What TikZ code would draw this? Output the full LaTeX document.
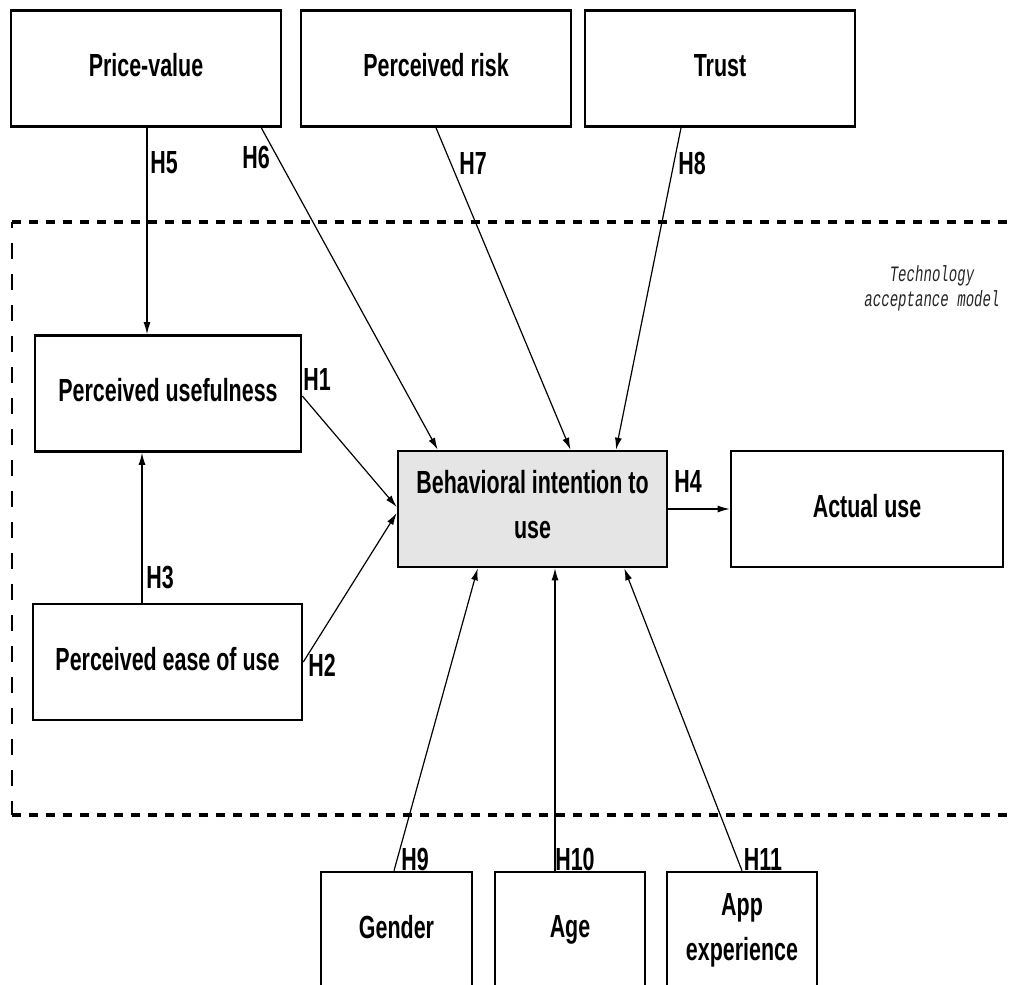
\documentclass[tikz,border=0pt]{standalone}
\usepackage{fontspec}
\setmainfont{Liberation Sans}[FakeStretch=0.67]
\newfontfamily\tammono{Liberation Mono}[FakeStretch=0.64]
\usetikzlibrary{arrows.meta,calc}
\definecolor{bifill}{RGB}{229,229,229}
\tikzset{
  box/.style={draw, line width=2.6pt, minimum height=116pt, align=center,
    inner sep=0pt, text depth=7pt, font=\fontsize{32}{45}\selectfont\bfseries},
  conn/.style={line width=1.2pt, -{Latex[length=12pt,width=7pt]}},
  hlab/.style={inner sep=0pt, font=\fontsize{32}{36}\selectfont\bfseries},
  hdash/.style={line width=3.5pt, dash pattern=on 9pt off 8pt},
  vdash/.style={line width=2.7pt, dash pattern=on 15.5pt off 15.5pt, dash phase=10pt},
}
\begin{document}
\begin{tikzpicture}[x=1pt,y=-1pt]
\useasboundingbox (0,0) rectangle (1012,985);
\clip (0,0) rectangle (1012,985);
% dashed frame
\draw[hdash] (12,222) -- (1012,222);
\draw[hdash] (12,815) -- (1012,815);
\draw[vdash] (12,222) -- (12,815);
\node[font=\tammono\itshape\fontsize{22}{25}\selectfont, align=center, text=black!85, inner sep=0pt] (tam) at (932,288) {Technology\\acceptance model};
% boxes
\node[box, minimum width=270pt] (pv) at (146,68.5) {Price-value};
\node[box, minimum width=270pt] (pr) at (436,68.5) {Perceived risk};
\node[box, minimum width=270pt] (tr) at (720,68.5) {Trust};
\node[box, minimum width=266pt] (pu) at (168,393.5) {Perceived usefulness};
\node[box, minimum width=269pt] (pe) at (167.5,662) {Perceived ease of use};
\node[box, minimum width=269pt, fill=bifill, text depth=10pt] (bi) at (532.5,509) {Behavioral intention to\\use};
\node[box, minimum width=272pt] (au) at (867,509) {Actual use};
\node[box, minimum width=151pt] (g) at (396.5,930) {Gender};
\node[box, minimum width=150pt] (ag) at (570,930) {Age};
\node[box, minimum width=150pt] (ae) at (742,930) {App\\experience};
% connectors
\draw[conn] ([xshift=1pt]pv.south) -- ([xshift=1pt]pv.south |- pu.north);
\draw[conn] ([xshift=-21pt]pv.south east) -- ([xshift=41pt]bi.north west);
\draw[conn] (pr.south) -- ([xshift=38pt]bi.north);
\draw[conn] ([xshift=-39pt]tr.south) -- ([xshift=83.5pt]bi.north);
\draw[conn] ([yshift=-2.5pt]pu.east) -- ([yshift=2pt]bi.west);
\draw[conn] (pe.east) -- ([yshift=-4pt]bi.west);
\draw[conn] ([xshift=-25.5pt]pe.north) -- ([xshift=-25.5pt]pe.north |- pu.south);
\draw[conn] (bi.east) -- (au.west);
\draw[conn] ([xshift=-2.5pt]g.north) -- ([xshift=81pt]bi.south west);
\draw[conn] ([xshift=-15pt]ag.north) -- ([xshift=-15pt]ag.north |- bi.south);
\draw[conn] (ae.north) -- ([xshift=-44pt]bi.south east);
% labels
\node[hlab] (l1) at (317,379) {H1};
\node[hlab] (l2) at (322,665) {H2};
\node[hlab] (l3) at (160,578) {H3};
\node[hlab] (l4) at (688,481) {H4};
\node[hlab] (l5) at (164,163) {H5};
\node[hlab] (l6) at (256,157) {H6};
\node[hlab] (l7) at (473,163) {H7};
\node[hlab] (l8) at (692,163) {H8};
\node[hlab] (l9) at (415,859) {H9};
\node[hlab] (l10) at (575,859) {H10};
\node[hlab] (l11) at (763,859) {H11};
\end{tikzpicture}
\end{document}
